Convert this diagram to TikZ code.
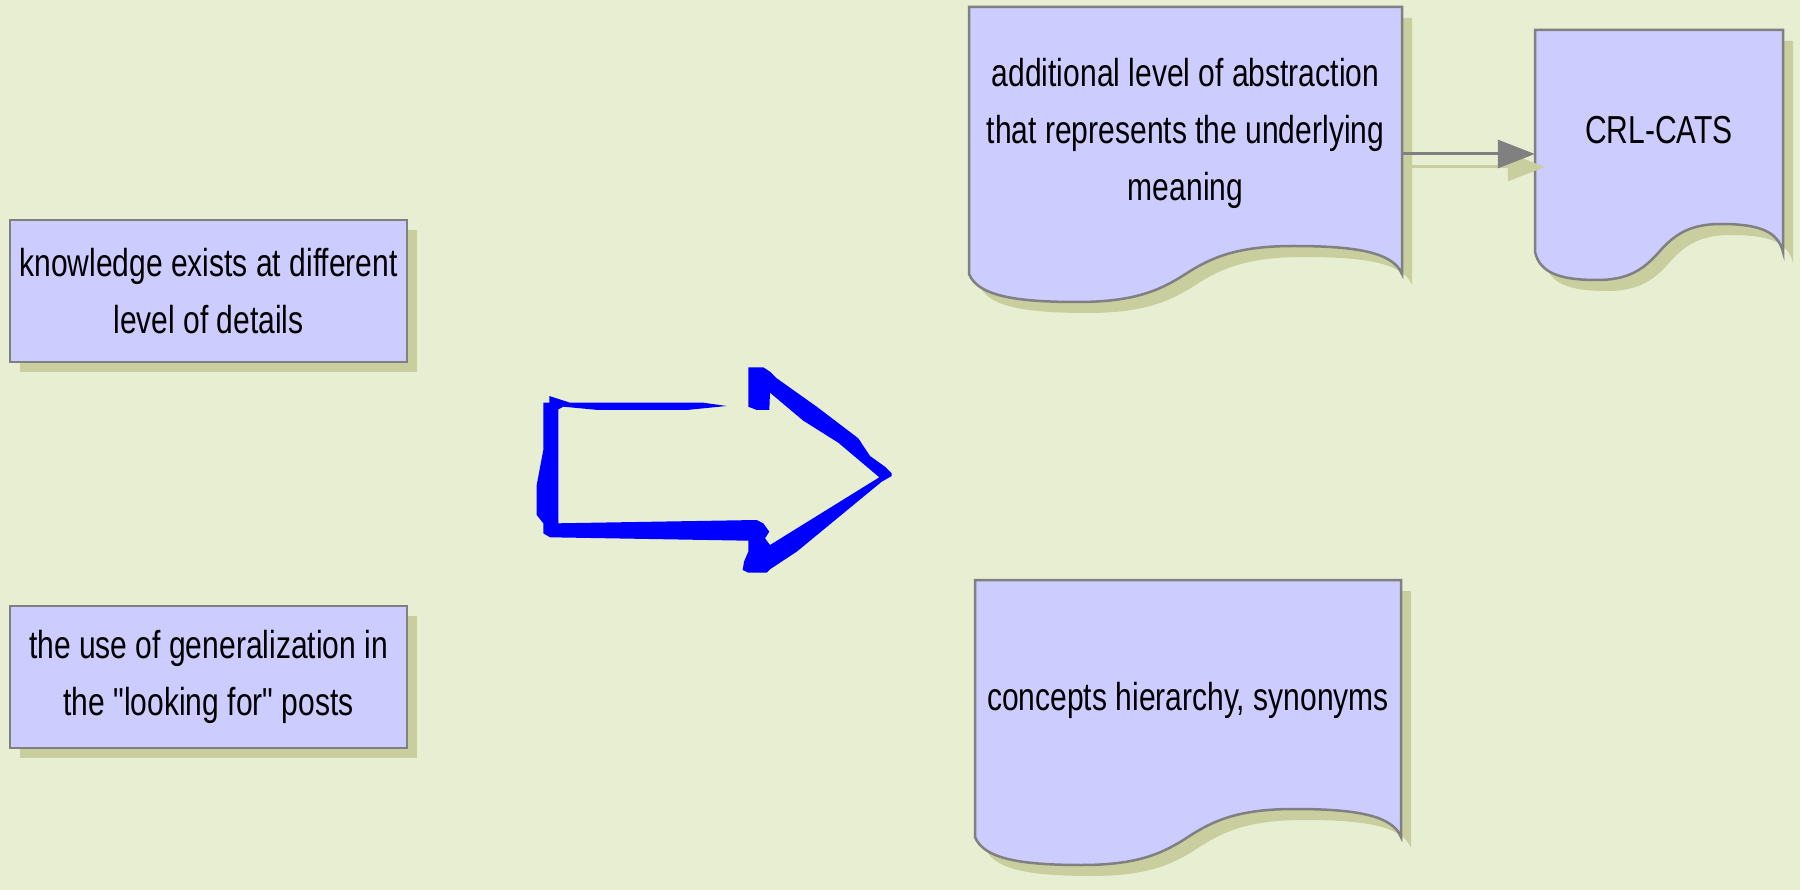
\documentclass[tikz,border=0pt]{standalone}
\usepackage{fontspec}
\setmainfont{Liberation Sans}[FakeStretch=0.77, Ligatures=TeXOff]
\usetikzlibrary{arrows.meta,shadows}

\definecolor{bgc}{RGB}{232,238,210}
\definecolor{boxc}{RGB}{204,204,255}
\definecolor{edgec}{RGB}{128,128,128}
\definecolor{shadowc}{RGB}{201,206,159}
\definecolor{bigarrow}{RGB}{0,0,255}

% document shape: style, left, right, top, straight bottom, wave amplitude
\newcommand\docpath[6]{%
  \path[#1] (#2,#4) -- (#3,#4) -- (#3,#5)
    .. controls ({#3-0.02*(#3-#2)},{#5-0.75*#6}) and ({#2+0.9*(#3-#2)},{#5-#6})
    .. ({#2+0.75*(#3-#2)},{#5-#6})
    .. controls ({#2+0.62*(#3-#2)},{#5-#6}) and ({#2+0.56*(#3-#2)},{#5-0.6*#6})
    .. ({#2+0.5*(#3-#2)},{#5})
    .. controls ({#2+0.44*(#3-#2)},{#5+0.6*#6}) and ({#2+0.38*(#3-#2)},{#5+#6})
    .. ({#2+0.25*(#3-#2)},{#5+#6})
    .. controls ({#2+0.1*(#3-#2)},{#5+#6}) and ({#2+0.02*(#3-#2)},{#5+0.75*#6})
    .. (#2,#5) -- cycle;}

\tikzset{
  txt/.style={font=\fontsize{39}{57}\selectfont, align=center, inner sep=0pt},
  plainbox/.style={txt, rectangle, fill=boxc, draw=edgec, line width=2.5pt,
    drop shadow={shadow xshift=10pt, shadow yshift=-10pt, opacity=1, fill=shadowc}},
  docfill/.style={fill=boxc, draw=edgec, line width=2.5pt},
  docshade/.style={fill=shadowc},
  doctext/.style={txt, rectangle},
  conn/.style={draw=edgec, line width=3pt, -{Triangle[length=37pt,width=28pt]}},
  connshade/.style={draw=shadowc, line width=3pt, -{Triangle[length=37pt,width=28pt]}},
}

\begin{document}
\begin{tikzpicture}[x=1pt,y=-1pt]
  \fill[bgc] (0,0) rectangle (1800,890);
  \useasboundingbox (0,0) rectangle (1800,890);

  % left statements
  \node[plainbox, minimum width=397pt, minimum height=142pt] (know) at (208.5,291)
    {knowledge exists at different\\level of details};
  \node[plainbox, minimum width=397pt, minimum height=142pt] (gen) at (208.5,677)
    {the use of generalization in\\the "looking for" posts};

  % document shadows
  \begin{scope}[shift={(10,11)}]
    \docpath{docshade}{969}{1402}{7}{274}{28}
    \docpath{docshade}{1535}{1783}{30}{252}{28}
    \docpath{docshade}{975}{1401}{580}{837}{28}
  \end{scope}

  % documents
  \docpath{docfill}{969}{1402}{7}{274}{28}
  \docpath{docfill}{1535}{1783}{30}{252}{28}
  \docpath{docfill}{975}{1401}{580}{837}{28}

  \node[doctext, minimum width=433pt, minimum height=250pt] (abs) at (1185.5,133)
    {additional level of abstraction\\that represents the underlying\\meaning};
  \node[doctext, minimum width=248pt, minimum height=200pt] (crl) at (1659,130) {CRL-CATS};
  \node[doctext, minimum width=426pt, minimum height=240pt] (conc) at (1188,700)
    {concepts hierarchy, synonyms};

  % connector between the upper documents
  \coordinate (link) at (0,154);
  \coordinate (la) at (abs.east |- link);
  \coordinate (lb) at (crl.west |- link);
  \draw[connshade] ([shift={(10,13)}]la) -- ([shift={(10,13)}]lb);
  \draw[conn] (la) -- (lb);

  % large hand-drawn outline arrow
  \fill[bigarrow] (726.7,406) -- (703.3,402.7) -- (570,402.7) -- (549.3,396)
    -- (549.3,402.7) -- (543.3,402.7) -- (543.3,450) -- (536.7,485)
    -- (536.7,515) -- (543.3,523.3) -- (543.3,533.3) -- (550,537.3)
    -- (748.3,540.7) -- (748.3,551.7) -- (744,561.7) -- (742.7,570)
    -- (748.3,572.7) -- (766.7,572.7) -- (770,569.3) -- (796.7,551.7)
    -- (881.7,481.7) -- (891.7,476) -- (891.7,473.3) -- (885,466.7)
    -- (870,456) -- (858.3,438.3) -- (816.7,406.7) -- (776.7,378.3)
    -- (770,371.7) -- (763.3,367.3) -- (748.3,367.3) -- (748.3,406.7)
    -- (756.7,410) -- (769.3,410) -- (770,392.7) -- (803.3,420.7)
    -- (838.3,442.7) -- (879.3,477.3) -- (770,545) -- (765,538.3)
    -- (769.3,531.7) -- (763.3,523.3) -- (756.7,520) -- (558.3,523.3)
    -- (558.3,409.3) -- (563.3,406.7) -- (598.3,410) -- (686.7,410) -- cycle;
\end{tikzpicture}
\end{document}
